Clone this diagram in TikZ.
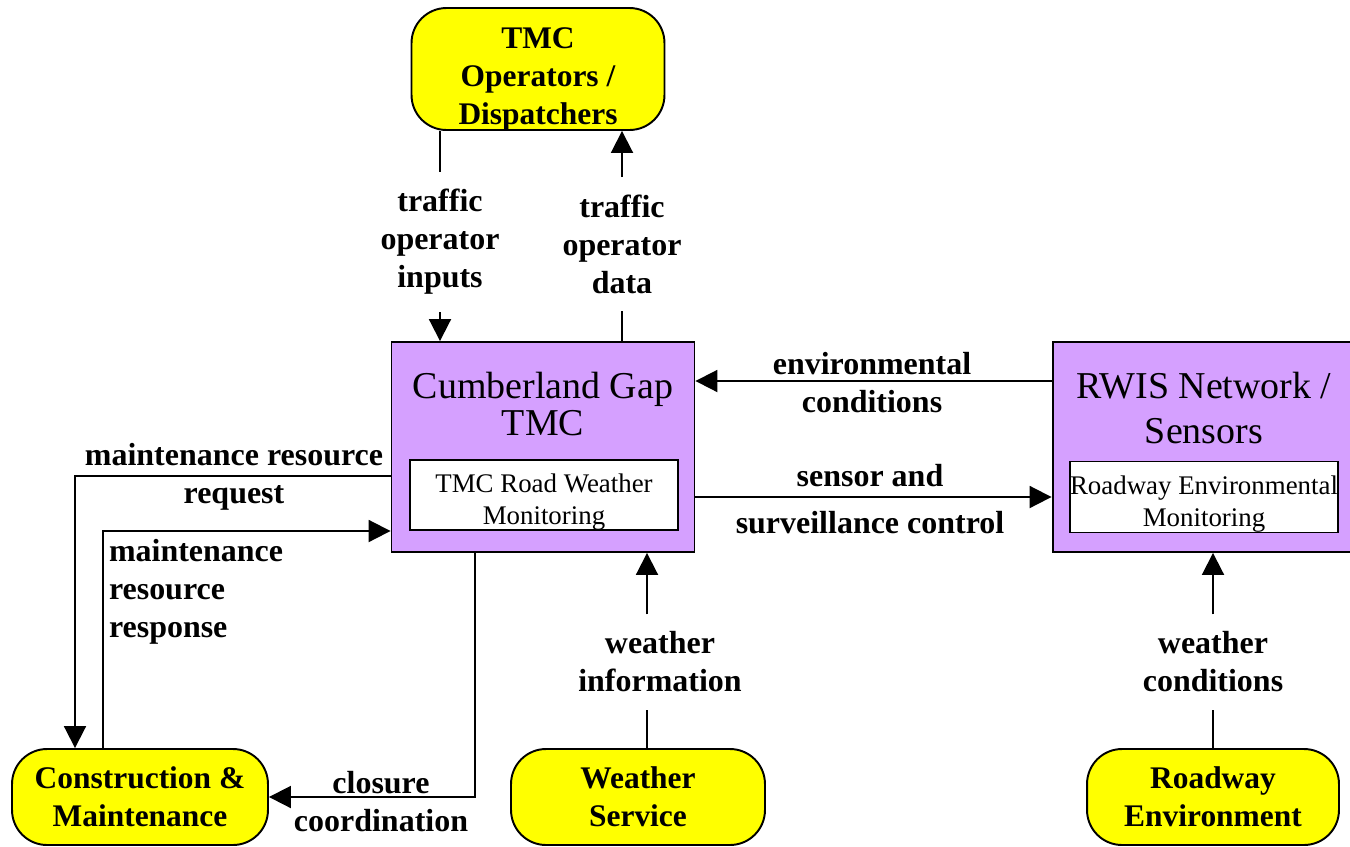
\documentclass[tikz,border=0pt]{standalone}
\usepackage{fontspec}
\setmainfont{Liberation Serif}
\usepackage{xcolor}
\usetikzlibrary{positioning,arrows.meta}
\definecolor{sysfill}{RGB}{213,160,255}
\definecolor{termfill}{RGB}{255,255,0}

\begin{document}
\begin{tikzpicture}[x=0.02cm, y=-0.02cm,
    term/.style={draw, line width=1.1pt, fill=termfill, rounded corners=0.7cm, align=center,
                 inner sep=0pt, font=\bfseries\fontsize{17.9}{21.6}\selectfont},
    termtxt/.style={align=center, inner sep=0pt, font=\bfseries\fontsize{17.9}{21.6}\selectfont},
    sys/.style={draw, line width=1.1pt, fill=sysfill, inner sep=0pt},
    sub/.style={draw, line width=1pt, fill=white, inner sep=0pt},
    subtxt/.style={align=center, inner sep=0pt, font=\fontsize{15.3}{18.4}\selectfont},
    ttl/.style={align=center, inner sep=0pt, font=\fontsize{21.6}{21.6}\selectfont},
    flow/.style={align=center, inner sep=0pt, outer sep=0.35cm,
                 font=\bfseries\fontsize{18.2}{21.6}\selectfont},
    ln/.style={line width=1.1pt},
    arr/.style={-{Triangle[length=0.44cm, width=0.44cm]}, line width=1.1pt}
  ]
  \useasboundingbox (0,0) rectangle (1350,846);

  % Terminators.
  \node[term, minimum width=5.06cm, minimum height=2.44cm] (ops) at (538,69) {};
  \node[termtxt] (opst) at (538,79) {TMC\\Operators /\\Dispatchers};
  \node[term, minimum width=5.12cm, minimum height=1.92cm] (con) at (140,797)
    {Construction \&\\Maintenance};
  \node[term, minimum width=5.08cm, minimum height=1.92cm] (wx) at (638,797)
    {Weather\\Service};
  \node[term, minimum width=5.04cm, minimum height=1.92cm] (road) at (1213,797)
    {Roadway\\Environment};

  % Systems.
  \node[sys, minimum width=6.06cm, minimum height=4.2cm] (cg) at (543,447) {};
  \node[ttl] (cgt) at (543,404) {Cumberland Gap\\TMC};
  \node[sub, minimum width=5.36cm, minimum height=1.4cm] (cgin) at (544,495) {};
  \node[subtxt] (cgint) at (544,502) {TMC Road Weather\\Monitoring};
  \node[sys, minimum width=6.06cm, minimum height=4.2cm] (rwis) at (1204,447) {};
  \node[ttl] (rwist) at (1204,408) {RWIS Network /\\[0.16cm]Sensors};
  \node[sub, minimum width=5.36cm, minimum height=1.42cm] (rwisin) at (1204,497) {};
  \node[subtxt] (rwisint) at (1204,504) {Roadway Environmental\\Monitoring};

  % Flow labels.
  \node[flow] (l_in) at (440,242) {traffic\\operator\\inputs};
  \node[flow] (l_data) at (622,244) {traffic\\operator\\data};
  \node[flow] (l_env) at (872,383) {environmental\\conditions};
  \node[flow] (l_sen) at (870,499) {sensor and\\[0.18cm]surveillance control};
  \node[flow] (l_req) at (234,477) {maintenance resource\\request};
  \node[flow, align=left, anchor=west, outer sep=0pt] (l_resp) at (109,592)
    {maintenance\\resource\\response};
  \node[flow] (l_clo) at (381,802) {closure\\coordination};
  \node[flow] (l_wx) at (660,662) {weather\\information};
  \node[flow] (l_rc) at (1213,662) {weather\\conditions};

  % Bend points.
  \coordinate (envy) at (0,381);
  \coordinate (seny) at (0,497);
  \coordinate (reqbend) at (75,476);
  \coordinate (respbend) at (103,531);
  \coordinate (clobend) at (475,797);
  \coordinate (wxx) at (647,0);

  \draw[ln] (ops.south -| l_in) -- (l_in.north);
  \draw[arr] (l_in.south) -- (cg.north -| l_in);
  \draw[ln] (cg.north -| l_data) -- (l_data.south);
  \draw[arr] (l_data.north) -- (ops.south -| l_data);
  \draw[arr] (rwis.west |- envy) -- (cg.east |- envy);
  \draw[arr] (cg.east |- seny) -- (rwis.west |- seny);
  \draw[arr] (cg.west |- reqbend) -- (reqbend) -- (con.north -| reqbend);
  \draw[arr] (con.north -| respbend) -- (respbend) -- (cg.west |- respbend);
  \draw[arr] (cg.south -| clobend) -- (clobend) -- (con.east |- clobend);
  \draw[ln] (wx.north -| wxx) -- (l_wx.south -| wxx);
  \draw[arr] (l_wx.north -| wxx) -- (cg.south -| wxx);
  \draw[ln] (road.north) -- (l_rc.south);
  \draw[arr] (l_rc.north) -- (rwis.south -| l_rc);
\end{tikzpicture}
\end{document}
